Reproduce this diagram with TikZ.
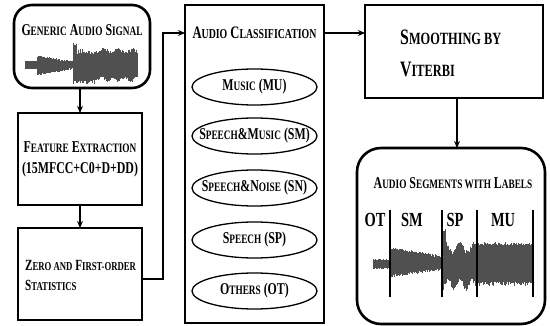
\documentclass[tikz,border=0pt]{standalone}
\usepackage{fontspec}
\setmainfont{Liberation Serif}[FakeStretch=0.72]
\usepackage{tikz}
\usetikzlibrary{calc,arrows.meta,shapes.geometric}
\definecolor{wavegray}{RGB}{80,80,80}
\newcommand{\sm}[1]{\scalebox{0.78}{#1}}

\begin{document}
\begin{tikzpicture}[x=1pt,y=-1pt,
  box/.style={draw,line width=2.6pt,minimum width=124pt,minimum height=92pt,inner sep=0pt,outer sep=0pt},
  rbox/.style={box,rounded corners=18pt},
  cat/.style={inner sep=0pt,font=\fontsize{16.5}{16.5}\selectfont\bfseries},
  catline/.style={line width=1.3pt},
  ttl/.style={font=\fontsize{16.5}{21}\selectfont\bfseries,inner sep=0pt},
  lab/.style={font=\fontsize{20}{20}\selectfont\bfseries,inner sep=0pt},
  arr/.style={line width=1.1pt,-{Stealth[length=7pt,width=6pt]}},
  wave/.style={line width=0.7pt,color=wavegray},
  sep/.style={line width=1.5pt}]
\useasboundingbox (0,0) rectangle (550,326);
\pgfmathsetseed{3}

% input signal
\node[rbox,minimum width=136pt,minimum height=83pt] (gen) at (82,46.5) {};
\node[ttl] (gentxt) at (82,30) {G\sm{ENERIC} A\sm{UDIO} S\sm{IGNAL}};
\foreach \x in {25,25.6,...,37}{
  \pgfmathsetmacro\up{3+1.5*rnd}
  \pgfmathsetmacro\dn{3+1.5*rnd}
  \draw[wave] (\x,65-\up) -- (\x,65+\dn);
}
\foreach \x in {37.6,38.2,...,73}{
  \pgfmathsetmacro\up{2.5+5*(73-\x)/36+2*rnd}
  \pgfmathsetmacro\dn{2.5+6*(73-\x)/36+2*rnd}
  \draw[wave] (\x,65-\up) -- (\x,65+\dn);
}
\foreach \x in {73.6,74.2,...,95}{
  \pgfmathsetmacro\up{11+6*rnd*rnd+(\x<76)*9}
  \pgfmathsetmacro\dn{13+6*rnd}
  \draw[wave] (\x,65-\up) -- (\x,65+\dn);
}
\foreach \x in {95.6,96.2,...,137}{
  \pgfmathsetmacro\up{12+2*sin(\x*25)+4*rnd}
  \pgfmathsetmacro\dn{12+2*sin(\x*31)+4*rnd}
  \draw[wave] (\x,65-\up) -- (\x,65+\dn);
}

% features
\node[box] (feat) at (80,159) {};
\node[ttl,align=center] (feattxt) at (feat) {F\sm{EATURE} E\sm{XTRACTION}\\(15MFCC+C0+D+DD)};
\node[box] (zero) at (80,274) {};
\node[ttl,font=\fontsize{15.5}{20}\selectfont\bfseries,align=left,anchor=west] (zerotxt) at (25,276) {Z\sm{ERO AND} F\sm{IRST-ORDER}\\S\sm{TATISTICS}};

% classifier
\node[box,minimum width=139pt,minimum height=318pt] (cls) at (254.5,164) {};
\node[ttl,font=\fontsize{17.5}{18}\selectfont\bfseries] (clstxt) at (254.5,33) {A\sm{UDIO} C\sm{LASSIFICATION}};
\foreach \y/\t/\n in {87/{M\sm{USIC} (MU)}/mu,136/{S\sm{PEECH}\&M\sm{USIC} (SM)}/sm,188/{S\sm{PEECH}\&N\sm{OISE} (SN)}/sn,240/{S\sm{PEECH} (SP)}/sp,291/{O\sm{THERS} (OT)}/ot}{
  \node[cat] (\n) at (254.5,\y) {\t};
  \draw[catline] (\n.center) ellipse [x radius=62.5,y radius=18];
}

% smoothing
\node[box,minimum width=178pt,minimum height=93pt] (smooth) at (454,51.5) {};
\node[ttl,font=\fontsize{22}{32}\selectfont\bfseries,align=left,anchor=west] (smoothtxt) at (400,53) {S\sm{MOOTHING BY}\\V\sm{ITERBI}};

% output
\node[rbox,rounded corners=24pt,minimum width=188pt,minimum height=176pt] (seg) at (451,236) {};
\node[ttl] (segtxt) at (453,183) {A\sm{UDIO} S\sm{EGMENTS WITH} L\sm{ABELS}};
\foreach \x in {373,373.6,...,389}{
  \pgfmathsetmacro\up{3.5+1.5*rnd}
  \pgfmathsetmacro\dn{3.5+1.5*rnd}
  \draw[wave] (\x,264-\up) -- (\x,264+\dn);
}
\foreach \x in {390.6,391.2,...,442}{
  \pgfmathsetmacro\up{5+9*(442-\x)/52+2.5*rnd}
  \pgfmathsetmacro\dn{5+7*(442-\x)/52+2.5*rnd}
  \draw[wave] (\x,263-\up) -- (\x,263+\dn);
}
\foreach \x in {442.6,443.2,...,477}{
  \pgfmathsetmacro\up{13+5*sin((\x-442)*25)+4*rnd+(\x<446)*12}
  \pgfmathsetmacro\dn{19+5*sin((\x-442)*30+90)+4*rnd}
  \draw[wave] (\x,263-\up) -- (\x,263+\dn);
}
\foreach \x in {477.6,478.2,...,533}{
  \pgfmathsetmacro\up{18+4*rnd*rnd}
  \pgfmathsetmacro\dn{19+5*rnd*rnd}
  \draw[wave] (\x,263-\up) -- (\x,263+\dn);
}
\foreach \x in {390,442,477,533}
  \draw[sep] (\x,210) -- (\x,297);
\foreach \x/\l in {375/OT,412/SM,455/SP,503/MU}
  \node[lab] (l\l) at (\x,220) {\l};

% connectors
\draw[arr] (gen.south -| feat.north) -- (feat.north);
\draw[arr] (feat) -- (zero);
\draw[arr] ([yshift=-5pt]zero.east) -- ++(21,0) |- (cls.west |- clstxt);
\draw[arr] (cls.east |- clstxt) -- (smooth.west |- clstxt);
\draw[arr] ([xshift=3pt]smooth.south) -- ([xshift=3pt]smooth.south |- seg.north);
\end{tikzpicture}
\end{document}
